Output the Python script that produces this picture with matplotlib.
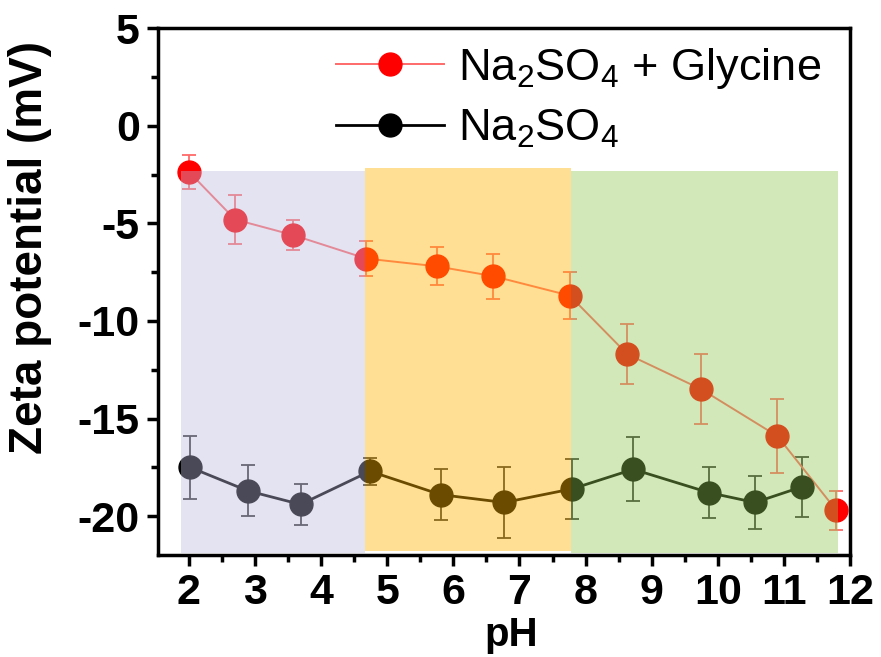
import numpy as np
import matplotlib.pyplot as plt
from matplotlib.ticker import MultipleLocator

plt.rcParams['font.family'] = ['Liberation Sans', 'DejaVu Sans']
plt.rcParams['axes.unicode_minus'] = False
plt.rcParams['mathtext.fontset'] = 'custom'
plt.rcParams['mathtext.rm'] = 'Liberation Sans'

# Na2SO4 + Glycine
ph_gly = [2.0, 2.70, 3.58, 4.68, 5.75, 6.60, 7.76, 8.63, 9.75, 10.90, 11.79]
zeta_gly = [-2.35, -4.8, -5.6, -6.8, -7.2, -7.7, -8.7, -11.7, -13.5, -15.9, -19.7]
err_gly = [0.87, 1.28, 0.77, 0.92, 0.97, 1.15, 1.22, 1.55, 1.8, 1.9, 1.0]

# Na2SO4
ph_na = [2.02, 2.89, 3.69, 4.74, 5.81, 6.77, 7.80, 8.72, 9.87, 10.56, 11.27]
zeta_na = [-17.5, -18.7, -19.4, -17.7, -18.9, -19.3, -18.6, -17.6, -18.8, -19.3, -18.5]
err_na = [1.6, 1.3, 1.07, 0.7, 1.3, 1.8, 1.55, 1.65, 1.3, 1.35, 1.55]

# shaded pH regions: (start, end, bottom, top, colour, alpha)
regions = [
    (1.88, 4.66, -21.9, -2.3, '#b9b9dc', 0.4),
    (4.66, 7.78, -21.8, -2.15, '#ffb400', 0.42),
    (7.78, 11.82, -21.9, -2.3, '#91c650', 0.4),
]

fig = plt.figure(figsize=(8.81, 6.57), dpi=100)
ax = fig.add_axes([0.179, 0.155, 0.786, 0.802])

ax.errorbar(ph_gly, zeta_gly, yerr=err_gly, fmt='none', ecolor='#ff6a6a',
            elinewidth=1.3, capsize=5, capthick=1.3, zorder=2)
ax.errorbar(ph_na, zeta_na, yerr=err_na, fmt='none', ecolor='#333333',
            elinewidth=1.3, capsize=5, capthick=1.3, zorder=2)
ax.plot(ph_gly, zeta_gly, color='#ff6a6a', lw=1.4, marker='o', ms=16.5,
        mfc='#ff0000', mec='#ff0000', label='Na$_2$SO$_4$ + Glycine', zorder=3)
ax.plot(ph_na, zeta_na, color='black', lw=2, marker='o', ms=16.5,
        mfc='black', mec='black', label='Na$_2$SO$_4$', zorder=3)

# semi-transparent boxes drawn over the data
for x0, x1, y0, y1, c, a in regions:
    ax.fill_between([x0, x1], y0, y1, color=c, alpha=a, lw=0, zorder=5)

ax.set_xlim(1.53, 12)
ax.set_ylim(-22, 5)
ax.xaxis.set_major_locator(MultipleLocator(1))
ax.xaxis.set_minor_locator(MultipleLocator(0.5))
ax.yaxis.set_major_locator(MultipleLocator(5))
ax.yaxis.set_minor_locator(MultipleLocator(2.5))

ax.tick_params(which='major', direction='out', length=8, width=2.5,
               labelsize=31, pad=5)
ax.tick_params(which='minor', direction='out', length=5, width=2.5)
for lab in ax.get_xticklabels() + ax.get_yticklabels():
    lab.set_fontweight('bold')
for s in ax.spines.values():
    s.set_linewidth(2.5)

ax.set_xlabel('pH', fontsize=29, fontweight='bold')
ax.xaxis.set_label_coords(0.51, -0.115)
ax.set_ylabel('Zeta potential (mV)', fontsize=33, fontweight='bold')
ax.yaxis.set_label_coords(-0.152, 0.584)

ax.legend(loc='upper right', bbox_to_anchor=(0.99, 1.01), frameon=False,
          fontsize=32.5, handlelength=2.4, handletextpad=0.3,
          labelspacing=0.38, borderaxespad=0.1)

fig.savefig('out.png', dpi=100)
